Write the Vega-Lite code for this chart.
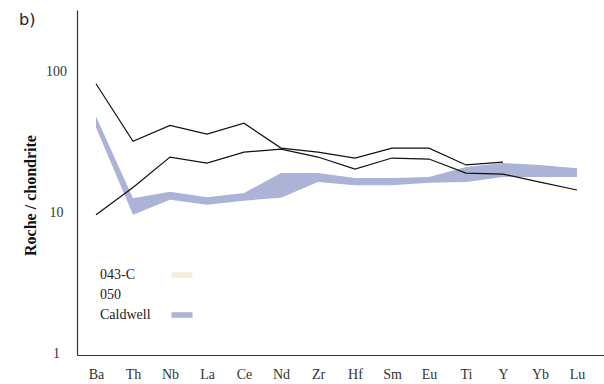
{
  "$schema": "https://vega.github.io/schema/vega-lite/v6.json",
  "width": 527,
  "height": 345,
  "autosize": {"type": "none"},
  "padding": {"left": 77, "top": 10, "right": 0, "bottom": 29},
  "background": "white",
  "title": {
    "text": "b)",
    "anchor": "start",
    "frame": "group",
    "orient": "top",
    "font": "DejaVu Sans",
    "fontSize": 16,
    "fontWeight": "normal",
    "color": "#222",
    "baseline": "top",
    "offset": 0,
    "dx": -58,
    "dy": 18
  },
  "config": {
    "view": {"stroke": null},
    "axis": {
      "labelFont": "Liberation Serif, serif",
      "labelFontSize": 14,
      "labelColor": "#333",
      "domainColor": "#333",
      "domainWidth": 1.2,
      "grid": false,
      "ticks": false,
      "tickSize": 0
    }
  },
  "layer": [
    {
      "data": {
        "values": [
          {"element": "Ba", "low": 40, "high": 48},
          {"element": "Th", "low": 9.6, "high": 12.6},
          {"element": "Nb", "low": 12.3, "high": 14},
          {"element": "La", "low": 11.3, "high": 12.8},
          {"element": "Ce", "low": 12.1, "high": 13.7},
          {"element": "Nd", "low": 12.7, "high": 19},
          {"element": "Zr", "low": 16.4, "high": 19},
          {"element": "Hf", "low": 15.6, "high": 17.5},
          {"element": "Sm", "low": 15.6, "high": 17.5},
          {"element": "Eu", "low": 16.2, "high": 17.8},
          {"element": "Ti", "low": 16.4, "high": 21},
          {"element": "Y", "low": 17.8, "high": 22.4},
          {"element": "Yb", "low": 17.8, "high": 21.7},
          {"element": "Lu", "low": 17.8, "high": 20.6}
        ]
      },
      "mark": {"type": "area", "opacity": 1},
      "encoding": {
        "x": {
          "field": "element",
          "type": "nominal",
          "scale": {
            "type": "point",
            "domain": ["Ba", "Th", "Nb", "La", "Ce", "Nd", "Zr", "Hf", "Sm", "Eu", "Ti", "Y", "Yb", "Lu"],
            "padding": 0.622,
            "align": 0.413
          },
          "axis": {"title": null, "labelAngle": 0, "labelPadding": 12, "labelBaseline": "top"}
        },
        "y": {
          "field": "low",
          "type": "quantitative",
          "scale": {"type": "log", "domain": [0.968, 274], "nice": false},
          "axis": {
            "values": [1, 10, 100],
            "format": "d",
            "labelAlign": "center",
            "labelBaseline": "middle",
            "labelPadding": 21,
            "title": "Roche / chondrite",
            "titleFont": "Liberation Serif, serif",
            "titleFontSize": 16,
            "titleFontWeight": "bold",
            "titleColor": "#111",
            "titleAngle": -90,
            "titleAlign": "center",
            "titleBaseline": "middle",
            "titleX": -47,
            "titleY": 185
          }
        },
        "y2": {"field": "high"},
        "fill": {
          "datum": "Caldwell",
          "type": "nominal",
          "scale": {
            "domain": ["043-C", "050", "Caldwell"],
            "range": ["#f3eddc", "#ffffff", "#abb3d7"]
          },
          "legend": {
            "title": null,
            "orient": "none",
            "legendX": 7,
            "legendY": 258,
            "padding": 0,
            "symbolType": "M-1.5,-0.4H1.5V0.4H-1.5Z",
            "symbolSize": 196,
            "symbolStrokeWidth": 0,
            "symbolOpacity": 1,
            "symbolOffset": 91,
            "labelOffset": -89,
            "rowPadding": 6,
            "labelFont": "Liberation Serif, serif",
            "labelFontSize": 14,
            "labelColor": "#222"
          }
        }
      }
    },
    {
      "data": {
        "values": [
          {"element": "Ba", "sample": "043-C", "value": 82},
          {"element": "Th", "sample": "043-C", "value": 32},
          {"element": "Nb", "sample": "043-C", "value": 41.5},
          {"element": "La", "sample": "043-C", "value": 36},
          {"element": "Ce", "sample": "043-C", "value": 43},
          {"element": "Nd", "sample": "043-C", "value": 28.6},
          {"element": "Zr", "sample": "043-C", "value": 26.8},
          {"element": "Hf", "sample": "043-C", "value": 24.3},
          {"element": "Sm", "sample": "043-C", "value": 28.6},
          {"element": "Eu", "sample": "043-C", "value": 28.6},
          {"element": "Ti", "sample": "043-C", "value": 21.7},
          {"element": "Y", "sample": "043-C", "value": 22.7},
          {"element": "Ba", "sample": "050", "value": 9.6},
          {"element": "Th", "sample": "050", "value": 15},
          {"element": "Nb", "sample": "050", "value": 24.7},
          {"element": "La", "sample": "050", "value": 22.4},
          {"element": "Ce", "sample": "050", "value": 26.8},
          {"element": "Nd", "sample": "050", "value": 28.1},
          {"element": "Zr", "sample": "050", "value": 24.7},
          {"element": "Hf", "sample": "050", "value": 20.3},
          {"element": "Sm", "sample": "050", "value": 24.3},
          {"element": "Eu", "sample": "050", "value": 23.9},
          {"element": "Ti", "sample": "050", "value": 19},
          {"element": "Y", "sample": "050", "value": 18.7},
          {"element": "Yb", "sample": "050", "value": 16.4},
          {"element": "Lu", "sample": "050", "value": 14.4}
        ]
      },
      "mark": {"type": "line", "color": "#111", "strokeWidth": 1.2},
      "encoding": {
        "x": {"field": "element", "type": "nominal"},
        "y": {"field": "value", "type": "quantitative"},
        "detail": {"field": "sample"}
      }
    },
    {
      "mark": {"type": "rule", "color": "#333", "strokeWidth": 1.2},
      "encoding": {"y": {"datum": 274}}
    }
  ]
}
